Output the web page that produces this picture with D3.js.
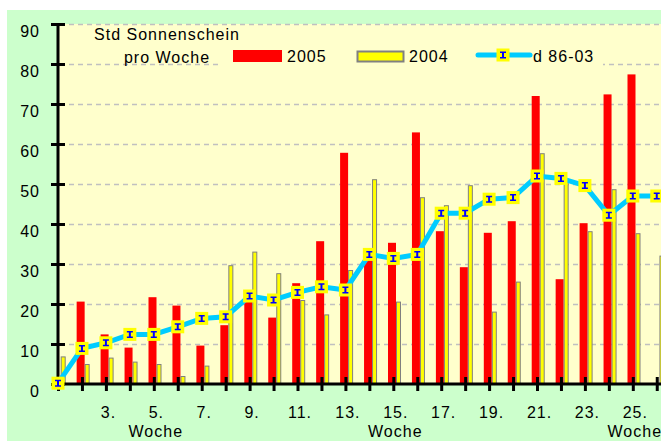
<!DOCTYPE html>
<html>
<head>
<meta charset="utf-8">
<script src="https://cdn.jsdelivr.net/npm/d3@7"></script>
<style>
  body { margin: 0; background: #fff; }
  svg { display: block; font-family: "Liberation Sans", Arial, sans-serif; }
</style>
</head>
<body>
<div id="chart"></div>
<script>
// data
const weeks = d3.range(1, 27);
const sun2005 = [0, 20.6, 12.4, 9.1, 21.7, 19.6, 9.6, 14.7, 21.5, 16.6, 25.2, 35.7,
  57.8, 31.5, 35.3, 62.9, 38.2, 29.2, 37.8, 40.7, 72, 26.2, 40.2, 72.4, 77.4, 0];
const sun2004 = [6.9, 5, 6.6, 5.6, 5, 2, 4.6, 29.7, 33.1, 27.7, 21, 17.4,
  28.5, 51.2, 20.6, 46.7, 44.7, 49.7, 18.1, 25.6, 57.7, 50.5, 38.2, 48.7, 37.7, 32.1];
const avg8603 = [0.2, 8.9, 10.3, 12.4, 12.4, 14.3, 16.4, 16.8, 22, 21, 22.9, 24.3,
  23.5, 32.4, 31.4, 32.4, 42.7, 42.7, 46.2, 46.6, 52, 51.4, 49.6, 42.2, 47, 47];
const yTicks = d3.range(0, 91, 10);
const xLabels = d3.range(3, 26, 2);
const wocheAt = [5, 15, 25];

const W = 661, H = 441;

const svg = d3.select("#chart").append("svg")
  .attr("width", W).attr("height", H);

// chart area + plot area
svg.append("rect").attr("x", 7).attr("y", 10).attr("width", W - 7).attr("height", H - 10)
  .attr("fill", "#ccffcc");

const x = d3.scalePoint().domain(weeks).range([58, 656.75]);
const y = d3.scaleLinear().domain([0, 90]).range([384, 24]);

svg.append("rect").attr("x", 58).attr("y", y(90)).attr("width", W - 58).attr("height", y(0) - y(90))
  .attr("fill", "#ffffcc");

//////////////////////// grid ////////////////////////
svg.append("g").selectAll("line")
  .data(yTicks.filter(d => d > 0))
  .enter().append("line")
  .attr("x1", 60).attr("x2", W)
  .attr("y1", d => y(d) + 0.5).attr("y2", d => y(d) + 0.5)
  .attr("stroke", "#c0c0c0").attr("stroke-width", 1.5)
  .attr("stroke-dasharray", "5,4");

// legend box hides the grid behind it
svg.append("rect").attr("x", 218).attr("y", 42).attr("width", 385).attr("height", 27)
  .attr("fill", "#ffffcc");

//////////////////////// bars ////////////////////////
svg.append("g").selectAll("rect")
  .data(weeks.map((w, i) => ({ w, v: sun2005[i] })).filter(d => d.v > 0))
  .enter().append("rect")
  .attr("x", d => x(d.w) - 5.3)
  .attr("y", d => y(d.v))
  .attr("width", 8)
  .attr("height", d => y(0) - y(d.v))
  .attr("fill", "#ff0000");

svg.append("g").selectAll("rect")
  .data(weeks.map((w, i) => ({ w, v: sun2004[i] })))
  .enter().append("rect")
  .attr("x", d => x(d.w) + 3.2)
  .attr("y", d => y(d.v) + 0.5)
  .attr("width", 4)
  .attr("height", d => y(0) - y(d.v) - 0.5)
  .attr("fill", "#ffff00")
  .attr("stroke", "#808080").attr("stroke-width", 1);

//////////////////////// axes ////////////////////////
const yAxis = svg.append("g")
  .attr("transform", "translate(58,0)")
  .call(d3.axisLeft(y).tickValues(yTicks).tickSize(7).tickPadding(11));
yAxis.select(".domain").attr("stroke", "#000").attr("stroke-width", 3)
  .attr("d", `M0,${y(90)}V${y(0)}`);
yAxis.selectAll(".tick line").attr("x1", -7).attr("x2", 7)
  .attr("stroke", "#000").attr("stroke-width", 3);
yAxis.selectAll(".tick text")
  .attr("y", 7).attr("dy", "0.35em").attr("x", -18)
  .style("font-size", "16px").style("letter-spacing", "1px").attr("fill", "#000");

const xAxis = svg.append("g")
  .attr("transform", `translate(0,${y(0)})`)
  .call(d3.axisBottom(x).tickSize(7)
    .tickFormat(d => xLabels.includes(d) ? d + "." : ""));
xAxis.select(".domain").attr("stroke", "#000").attr("stroke-width", 3)
  .attr("d", `M57,0H${W}`);
xAxis.selectAll(".tick line").attr("y1", -7).attr("y2", 7)
  .attr("stroke", "#000").attr("stroke-width", 3);
xAxis.selectAll(".tick text")
  .attr("y", 34).attr("dy", 0).attr("dx", 2)
  .style("font-size", "16px").style("letter-spacing", "1px").attr("fill", "#000");
svg.selectAll(".domain, .tick line").attr("stroke-linecap", "butt");

svg.append("g").selectAll("text")
  .data(wocheAt)
  .enter().append("text")
  .attr("x", d => x(d) + 2).attr("y", 437)
  .attr("text-anchor", "middle")
  .style("font-size", "16px").style("letter-spacing", "1px")
  .text("Woche");

//////////////////////// line ////////////////////////
const line = d3.line().x((d, i) => x(weeks[i])).y(d => y(d));
svg.append("path")
  .datum(avg8603)
  .attr("d", line)
  .attr("fill", "none")
  .attr("stroke", "#00ccff")
  .attr("stroke-width", 5);

const iBeam = "M-3,-3.5h6v1.5h-2v4h2v1.5h-6v-1.5h2v-4h-2z";

function marker(g) {
  g.append("rect").attr("x", -6.5).attr("y", -6.5).attr("width", 13).attr("height", 13)
    .attr("fill", "#ffff00");
  g.append("path").attr("d", iBeam).attr("fill", "#0000ff");
}

svg.append("g").selectAll("g")
  .data(avg8603)
  .enter().append("g")
  .attr("transform", (d, i) => `translate(${x(weeks[i])},${y(d)})`)
  .call(marker);

//////////////////////// legend ////////////////////////
const lab = svg.append("g").style("font-size", "16px").style("letter-spacing", "1px");
lab.append("text").attr("x", 167).attr("y", 40).attr("text-anchor", "middle").text("Std Sonnenschein");
lab.append("text").attr("x", 167).attr("y", 63).attr("text-anchor", "middle").text("pro Woche");

lab.append("rect").attr("x", 233).attr("y", 50).attr("width", 49).attr("height", 12).attr("fill", "#ff0000");
lab.append("text").attr("x", 287).attr("y", 62).text("2005");

lab.append("rect").attr("x", 357.5).attr("y", 51.5).attr("width", 46).attr("height", 10)
  .attr("fill", "#ffff00").attr("stroke", "#808080").attr("stroke-width", 2);
lab.append("text").attr("x", 409).attr("y", 62).text("2004");

lab.append("line").attr("x1", 478).attr("x2", 530).attr("y1", 55).attr("y2", 55)
  .attr("stroke", "#00ccff").attr("stroke-width", 5).attr("stroke-linecap", "round");
lab.append("g").attr("transform", "translate(503,55)").call(marker);
lab.append("text").attr("x", 533).attr("y", 62).text("d 86-03");
</script>
</body>
</html>
